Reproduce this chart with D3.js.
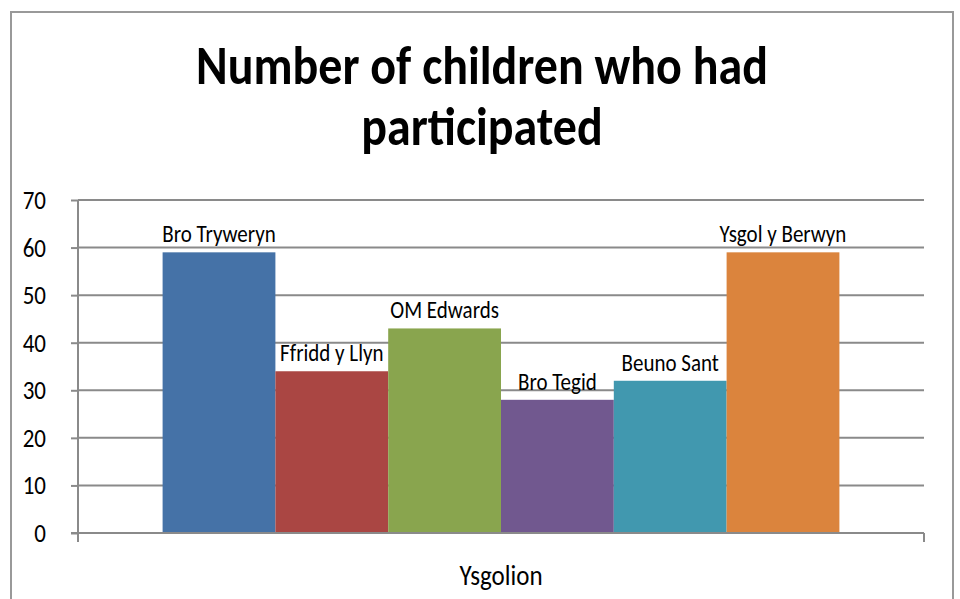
<!DOCTYPE html>
<html>
<head>
<meta charset="utf-8">
<script src="https://cdnjs.cloudflare.com/ajax/libs/d3/7.8.5/d3.min.js"></script>
<style>
  body { margin: 0; background: #fff; }
  text { font-family: Carlito, Calibri, Lato, sans-serif; fill: #000; }
</style>
</head>
<body>
<div id="chart"></div>
<script>
let width = 960;
let height = 599;

// data
let schools = ["Bro Tryweryn", "Ffridd y Llyn", "OM Edwards", "Bro Tegid", "Beuno Sant", "Ysgol y Berwyn"];
let participants = [59, 34, 43, 28, 32, 59];
let barColors = ["#4572A7", "#AA4643", "#89A54E", "#71588F", "#4198AF", "#DB843D"];
let yTicks = [0, 10, 20, 30, 40, 50, 60, 70];
let categoryLabel = "Ysgolion";
let titleLines = ["Number of children who had", "participated"];

let plot = { left: 78, right: 924, top: 200, bottom: 533 };
let gridColor = "#8a8a8a";
let stretch = 1.15; // the original text is a bit taller than wide

let svg = d3.select("#chart").append("svg")
	.attr("width", width)
	.attr("height", height);

// outer frame of the chart
svg.append("rect")
	.attr("x", 11)
	.attr("y", 12)
	.attr("width", 942)
	.attr("height", 620)
	.attr("fill", "none")
	.attr("stroke", "#999")
	.attr("stroke-width", 2);

// title
svg.append("g").selectAll("text")
	.data(titleLines)
	.enter().append("text")
	.attr("transform", function(d, i){ return "translate(482," + (84 + i * 61) + ") scale(1," + stretch + ")"; })
	.attr("text-anchor", "middle")
	.style("font-size", "48px")
	.style("font-weight", "bold")
	.text(function(d){ return d; });

let y = d3.scaleLinear()
	.domain([0, 70])
	.range([plot.bottom, plot.top]);

// one category, the schools are series inside it
let x0 = d3.scaleBand()
	.domain([categoryLabel])
	.range([plot.left, plot.right])
	.paddingInner(0)
	.paddingOuter(0.125);

let x1 = d3.scaleBand()
	.domain(schools)
	.range([0, x0.bandwidth()]);

// gridlines
svg.append("g").selectAll("line")
	.data(yTicks.filter(function(d){ return d > 0; }))
	.enter().append("line")
	.attr("x1", plot.left)
	.attr("x2", plot.right)
	.attr("y1", function(d){ return y(d); })
	.attr("y2", function(d){ return y(d); })
	.attr("stroke", gridColor)
	.attr("stroke-width", 2);

// y axis
let yAxis = svg.append("g")
	.attr("transform", "translate(" + plot.left + ",0)")
	.call(d3.axisLeft(y).tickValues(yTicks).tickSize(7).tickPadding(25));
yAxis.select(".domain").attr("stroke", gridColor).attr("stroke-width", 2)
	.attr("d", "M0," + (plot.bottom + 9) + "V" + plot.top);
yAxis.selectAll(".tick line").attr("stroke", gridColor).attr("stroke-width", 2);
yAxis.selectAll(".tick text")
	.style("font-family", "Carlito, Calibri, Lato, sans-serif")
	.style("font-size", "23px")
	.attr("fill", "#000")
	.attr("transform", "scale(1," + stretch + ")");

// bars
let g = svg.append("g")
	.attr("transform", "translate(" + x0(categoryLabel) + ",0)");

g.selectAll("rect")
	.data(schools)
	.enter().append("rect")
	.attr("x", function(d){ return x1(d); })
	.attr("width", x1.bandwidth())
	.attr("y", function(d, i){ return y(participants[i]); })
	.attr("height", function(d, i){ return y(0) - y(participants[i]); })
	.attr("fill", function(d, i){ return barColors[i]; });

// data labels above the bars
g.selectAll("text")
	.data(schools)
	.enter().append("text")
	.attr("transform", function(d, i){
		return "translate(" + (x1(d) + x1.bandwidth() / 2) + "," + (y(participants[i]) - 10) + ") scale(1," + stretch + ")";
	})
	.attr("text-anchor", "middle")
	.style("font-size", "21px")
	.text(function(d){ return d; });

// x axis line with end ticks
svg.append("line")
	.attr("x1", plot.left - 7)
	.attr("x2", plot.right)
	.attr("y1", y(0))
	.attr("y2", y(0))
	.attr("stroke", gridColor)
	.attr("stroke-width", 2);
svg.append("g").selectAll("line")
	.data(x0.range())
	.enter().append("line")
	.attr("x1", function(d){ return d; })
	.attr("x2", function(d){ return d; })
	.attr("y1", y(0))
	.attr("y2", y(0) + 9)
	.attr("stroke", gridColor)
	.attr("stroke-width", 2);

// category label
svg.append("text")
	.attr("transform", "translate(" + ((plot.left + plot.right) / 2) + ",585) scale(1," + stretch + ")")
	.attr("text-anchor", "middle")
	.style("font-size", "25px")
	.text(categoryLabel);
</script>
</body>
</html>
